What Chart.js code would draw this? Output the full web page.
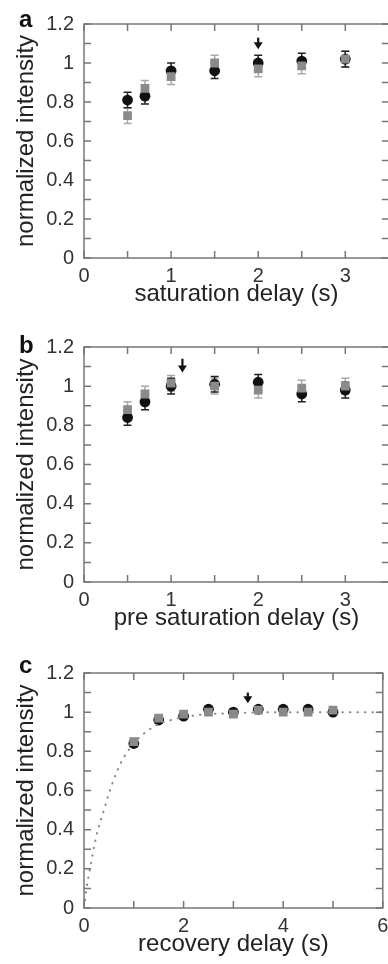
<!DOCTYPE html>
<html>
<head>
<meta charset="utf-8">
<script src="https://cdn.jsdelivr.net/npm/chart.js@4"></script>
<style>
  html, body { margin: 0; padding: 0; background: #fff; overflow: hidden; }
  body { width: 388px; height: 964px; position: relative; }
  canvas { position: absolute; left: 0; }
</style>
</head>
<body>
<canvas id="chartA" width="400" height="318" style="top:0px"></canvas>
<canvas id="chartB" width="400" height="319" style="top:323px"></canvas>
<canvas id="chartC" width="400" height="319" style="top:649px"></canvas>
<script>
// panel a: saturation delay
const satDelay = [0.5, 0.7, 1.0, 1.5, 2.0, 2.5, 3.0];
const satCircle = [0.81, 0.83, 0.96, 0.96, 1.00, 1.01, 1.02];
const satCircleErr = [0.04, 0.04, 0.04, 0.04, 0.04, 0.04, 0.04];
const satSquare = [0.73, 0.87, 0.93, 1.00, 0.97, 0.985, 1.02];
const satSquareErr = [0.04, 0.04, 0.04, 0.04, 0.04, 0.04, 0.04];
const satArrow = [2.0, 1.13, 1.07];

// panel b: pre saturation delay
const preDelay = [0.5, 0.7, 1.0, 1.5, 2.0, 2.5, 3.0];
const preCircle = [0.84, 0.92, 1.00, 1.01, 1.02, 0.96, 0.98];
const preCircleErr = [0.04, 0.04, 0.04, 0.04, 0.04, 0.04, 0.04];
const preSquare = [0.88, 0.96, 1.015, 1.00, 0.98, 0.99, 1.00];
const preSquareErr = [0.04, 0.04, 0.04, 0.04, 0.04, 0.04, 0.04];
const preArrow = [1.13, 1.14, 1.07];

// panel c: recovery delay
const recDelay = [1.0, 1.5, 2.0, 2.5, 3.0, 3.5, 4.0, 4.5, 5.0];
const recCircle = [0.84, 0.96, 0.98, 1.015, 1.00, 1.015, 1.015, 1.015, 1.00];
const recCircleErr = [0.015, 0.015, 0.015, 0.015, 0.015, 0.015, 0.015, 0.015, 0.015];
const recSquare = [0.85, 0.97, 0.99, 1.00, 0.99, 1.01, 1.00, 1.00, 1.01];
const recSquareErr = [0.015, 0.015, 0.015, 0.015, 0.015, 0.015, 0.015, 0.015, 0.015];
const recFitX = [0.02, 0.05, 0.12, 0.25, 0.4, 0.52, 0.65, 0.78, 1.0, 1.25, 1.5, 1.75, 2.0, 2.5, 3.0, 4.0, 5.0, 6.0];
const recFitY = [0.04, 0.10, 0.20, 0.37, 0.50, 0.60, 0.69, 0.76, 0.84, 0.90, 0.94, 0.96, 0.975, 0.99, 0.995, 1.0, 1.0, 1.0];
const recArrow = [3.29, 1.10, 1.045];

const yTicks = [0, 1.2, 0.1];
const FONT = "'Liberation Sans', Arial, sans-serif";
const AXIS_COLOR = '#777';

function toPoints(xs, ys) {
    return xs.map((x, i) => ({ x, y: ys[i] }));
}

function yLabel(v) {
    const k = Math.round(v * 10);
    return k % 2 === 0 ? String(k / 10) : '';
}

// error bars, drawn under the markers
const errorBarPlugin = {
    id: 'errorBars',
    beforeDatasetsDraw(chart) {
        const ctx = chart.ctx;
        const yScale = chart.scales.y;
        chart.data.datasets.forEach((ds, i) => {
            if (!ds.errors) return;
            const meta = chart.getDatasetMeta(i);
            ctx.save();
            ctx.strokeStyle = ds.errorColor;
            ctx.lineWidth = 1.5;
            meta.data.forEach((el, j) => {
                const v = ds.data[j].y;
                const top = yScale.getPixelForValue(v + ds.errors[j]);
                const bot = yScale.getPixelForValue(v - ds.errors[j]);
                ctx.beginPath();
                ctx.moveTo(el.x, top); ctx.lineTo(el.x, bot);
                ctx.moveTo(el.x - 4, top); ctx.lineTo(el.x + 4, top);
                ctx.moveTo(el.x - 4, bot); ctx.lineTo(el.x + 4, bot);
                ctx.stroke();
            });
            ctx.restore();
        });
    }
};

// box with inward ticks on all four sides
const framePlugin = {
    id: 'frame',
    afterDraw(chart) {
        const { ctx, chartArea: a, scales } = chart;
        const len = 7;
        ctx.save();
        ctx.strokeStyle = AXIS_COLOR;
        ctx.lineWidth = 1.5;
        ctx.beginPath();
        scales.x.ticks.forEach(t => {
            const px = scales.x.getPixelForValue(t.value);
            ctx.moveTo(px, a.bottom); ctx.lineTo(px, a.bottom - len);
            ctx.moveTo(px, a.top); ctx.lineTo(px, a.top + len);
        });
        scales.y.ticks.forEach(t => {
            const py = scales.y.getPixelForValue(t.value);
            ctx.moveTo(a.left, py); ctx.lineTo(a.left + len, py);
            ctx.moveTo(a.right, py); ctx.lineTo(a.right - len, py);
        });
        ctx.stroke();
        ctx.strokeRect(a.left, a.top, a.right - a.left, a.bottom - a.top);
        ctx.restore();
    }
};

function makePanel(id, letter, letterDy, xMax, xStep, xLabelEvery, xTitle, sets, arrow) {
    const arrowPlugin = {
        id: 'arrow',
        afterDatasetsDraw(chart) {
            const { ctx, scales } = chart;
            const px = scales.x.getPixelForValue(arrow[0]);
            const top = scales.y.getPixelForValue(arrow[1]);
            const tip = scales.y.getPixelForValue(arrow[2]);
            ctx.save();
            ctx.strokeStyle = '#111';
            ctx.fillStyle = '#111';
            ctx.lineWidth = 2.2;
            ctx.beginPath();
            ctx.moveTo(px, top); ctx.lineTo(px, tip - 5);
            ctx.stroke();
            ctx.beginPath();
            ctx.moveTo(px - 4.5, tip - 7); ctx.lineTo(px + 4.5, tip - 7); ctx.lineTo(px, tip);
            ctx.closePath();
            ctx.fill();
            ctx.restore();
        }
    };
    const letterPlugin = {
        id: 'letter',
        afterDraw(chart) {
            const ctx = chart.ctx;
            ctx.save();
            ctx.fillStyle = '#111';
            ctx.font = 'bold 24px ' + FONT;
            ctx.textBaseline = 'alphabetic';
            ctx.fillText(letter, 19, chart.chartArea.top + letterDy);
            ctx.restore();
        }
    };

    const datasets = [];
    if (sets.fitX) {
        datasets.push({
            data: toPoints(sets.fitX, sets.fitY),
            showLine: true,
            borderColor: '#888',
            borderWidth: 2,
            borderDash: [0.5, 7],
            borderCapStyle: 'round',
            cubicInterpolationMode: 'monotone',
            pointRadius: 0
        });
    }
    datasets.push({
        data: toPoints(sets.x, sets.square),
        errors: sets.squareErr,
        errorColor: '#a8a8a8',
        pointStyle: 'rect',
        pointRadius: 6.2,
        backgroundColor: '#8a8a8a',
        borderColor: '#8a8a8a',
        borderWidth: 0
    });
    datasets.push({
        data: toPoints(sets.x, sets.circle),
        errors: sets.circleErr,
        errorColor: '#222',
        pointStyle: 'circle',
        pointRadius: 5.4,
        backgroundColor: '#111',
        borderColor: '#111',
        borderWidth: 0
    });

    return new Chart(document.getElementById(id), {
        type: 'scatter',
        data: { datasets },
        options: {
            responsive: false,
            animation: false,
            events: [],
            layout: { padding: { top: 24, right: 400 - (84 + xMax * (xMax > 4 ? 49.8 : 87.1)), bottom: 0, left: 0 } },
            plugins: { legend: { display: false }, tooltip: { enabled: false } },
            scales: {
                x: {
                    type: 'linear',
                    min: 0,
                    max: xMax,
                    afterFit: s => { s.height = 60; },
                    grid: { display: false, drawTicks: false },
                    border: { display: false },
                    ticks: {
                        stepSize: xStep,
                        autoSkip: false,
                        maxRotation: 0,
                        padding: 6,
                        color: '#333',
                        font: { family: FONT, size: 20 },
                        callback: v => {
                            const r = Math.round(v);
                            return Math.abs(v - r) < 1e-6 && r % xLabelEvery === 0 ? String(r) : '';
                        }
                    },
                    title: {
                        display: true,
                        text: xTitle,
                        color: '#222',
                        font: { family: FONT, size: 24 },
                        padding: { top: 0, bottom: 9 }
                    }
                },
                y: {
                    type: 'linear',
                    min: yTicks[0],
                    max: yTicks[1],
                    afterFit: s => { s.width = 84; },
                    grid: { display: false, drawTicks: false },
                    border: { display: false },
                    ticks: {
                        stepSize: yTicks[2],
                        autoSkip: false,
                        padding: 10,
                        color: '#333',
                        font: { family: FONT, size: 20 },
                        callback: yLabel
                    },
                    title: {
                        display: true,
                        text: 'normalized intensity',
                        align: 'center',
                        color: '#222',
                        font: { family: FONT, size: 24 },
                        padding: { top: 12, bottom: 0 }
                    }
                }
            }
        },
        plugins: [errorBarPlugin, framePlugin, arrowPlugin, letterPlugin]
    });
}

makePanel('chartA', 'a', 3, 3.5, 0.5, 1, 'saturation delay (s)', {
    x: satDelay, circle: satCircle, circleErr: satCircleErr, square: satSquare, squareErr: satSquareErr
}, satArrow);

makePanel('chartB', 'b', 6, 3.5, 0.5, 1, 'pre saturation delay (s)', {
    x: preDelay, circle: preCircle, circleErr: preCircleErr, square: preSquare, squareErr: preSquareErr
}, preArrow);

makePanel('chartC', 'c', 0, 6, 1, 2, 'recovery delay (s)', {
    x: recDelay, circle: recCircle, circleErr: recCircleErr, square: recSquare, squareErr: recSquareErr,
    fitX: recFitX, fitY: recFitY
}, recArrow);
</script>
</body>
</html>
